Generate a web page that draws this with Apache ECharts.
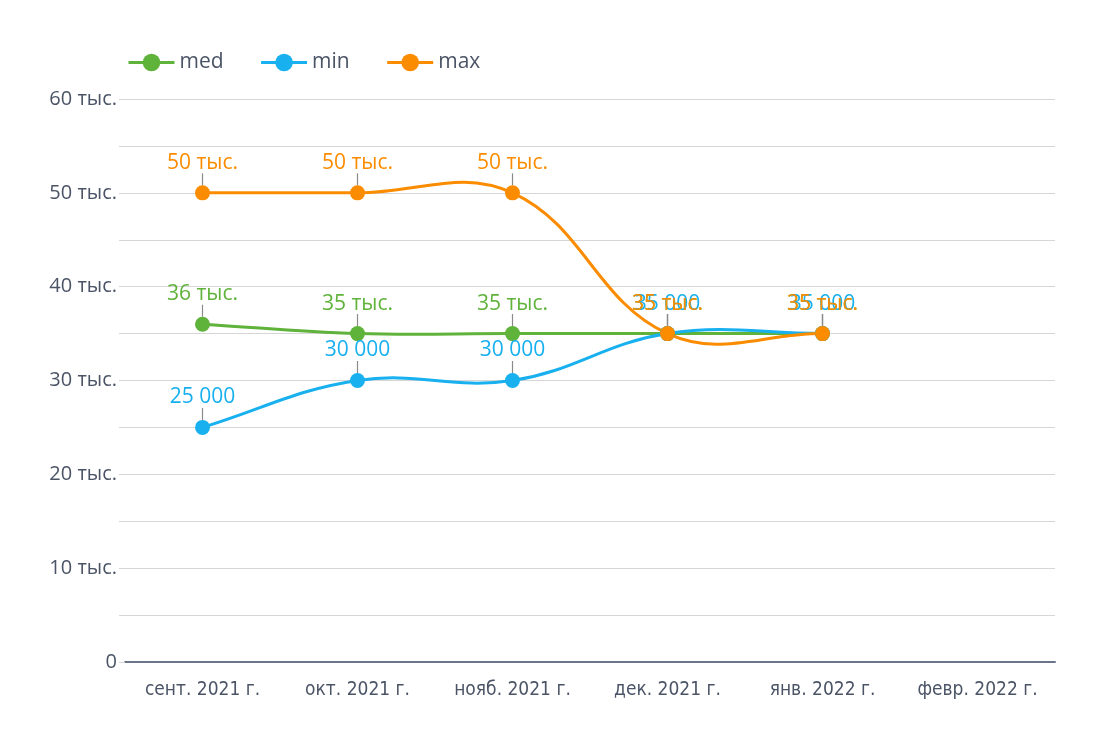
<!DOCTYPE html>
<html><head><meta charset="utf-8">
<script src="https://cdn.jsdelivr.net/npm/echarts@6/dist/echarts.min.js"></script>
<style>html,body{margin:0;padding:0;background:#fff}#c{width:1110px;height:737px}</style>
</head><body><div id="c"></div>
<script>
const categories = ['сент. 2021 г.', 'окт. 2021 г.', 'нояб. 2021 г.', 'дек. 2021 г.', 'янв. 2022 г.', 'февр. 2022 г.'];
const medValues = [36000, 35000, 35000, 35000, 35000, null];
const minValues = [25000, 30000, 30000, 35000, 35000, null];
const maxValues = [50000, 50000, 50000, 35000, 35000, null];

const COLORS = {med: '#5fb23a', min: '#18b0ee', max: '#fb8c00'};
const FONT = '"Open Sans", "Noto Sans", sans-serif';
const TENSION = 0.4;
function thous(v){ return Math.round(v/1000) + ' тыс.'; }
function spaced(v){ return String(Math.round(v)).replace(/\B(?=(\d{3})+(?!\d))/g, ' '); }

// smooth curve (cardinal-style spline) through the library-projected points
function curveSeries(name, values, color){
  return {
    name: name + '-curve', type: 'custom', coordinateSystem: 'cartesian2d',
    data: [[0, values[0]]], z: 1, clip: false, silent: true,
    renderItem: function(params, api){
      const pts = [];
      values.forEach((v, i) => { if (v != null) pts.push(api.coord([i, v])); });
      const cps = pts.map((p, i) => {
        const prev = pts[i - 1] || p, next = pts[i + 1] || p;
        const d01 = Math.hypot(p[0] - prev[0], p[1] - prev[1]);
        const d12 = Math.hypot(next[0] - p[0], next[1] - p[1]);
        let s01 = d01 / (d01 + d12), s12 = d12 / (d01 + d12);
        if (!isFinite(s01)) s01 = 0; if (!isFinite(s12)) s12 = 0;
        const fa = TENSION * s01, fb = TENSION * s12;
        return {
          prev: [p[0] - fa * (next[0] - prev[0]), p[1] - fa * (next[1] - prev[1])],
          next: [p[0] + fb * (next[0] - prev[0]), p[1] + fb * (next[1] - prev[1])]
        };
      });
      const children = [];
      for (let i = 0; i < pts.length - 1; i++) {
        children.push({
          type: 'bezierCurve',
          shape: {x1: pts[i][0], y1: pts[i][1], x2: pts[i+1][0], y2: pts[i+1][1],
                  cpx1: cps[i].next[0], cpy1: cps[i].next[1], cpx2: cps[i+1].prev[0], cpy2: cps[i+1].prev[1]},
          style: {stroke: color, lineWidth: 3, fill: null}
        });
      }
      return {type: 'group', children};
    }
  };
}

function pointSeries(name, data, color, fmt){
  return {
    name, type: 'line', data,
    symbol: 'circle', symbolSize: 15, z: 3,
    lineStyle: {width: 3, color, opacity: 0},
    itemStyle: {color},
    label: {show: true, position: 'top', distance: 0, color, fontSize: 21, fontFamily: FONT,
      formatter: p => fmt(p.value)},
    labelLayout: {dy: -12},
    labelLine: {show: true, length2: 0, lineStyle: {color: '#8a8a8a', width: 1.2}},
    emphasis: {disabled: true}
  };
}

const chart = echarts.init(document.getElementById('c'));
chart.setOption({
  animation: false,
  legend: {
    data: ['med', 'min', 'max'],
    left: 122, top: 47, itemWidth: 46, itemHeight: 22, itemGap: 36,
    lineStyle: {width: 3, opacity: 1},
    textStyle: {fontSize: 21, color: '#4b5466', fontFamily: FONT}
  },
  grid: {left: 125, right: 55, top: 99, bottom: 75, containLabel: false},
  xAxis: {
    type: 'category', data: categories, boundaryGap: true,
    axisLine: {lineStyle: {color: '#6c7588', width: 2}},
    axisTick: {show: false},
    axisLabel: {interval: 0, fontSize: 19, color: '#4b5466', margin: 19, fontFamily: '"DejaVu Sans Condensed", ' + FONT}
  },
  yAxis: {
    type: 'value', min: 0, max: 60000, interval: 5000,
    axisLine: {show: false},
    axisTick: {show: true, length: 6, lineStyle: {color: '#d6d6d6'}},
    splitLine: {lineStyle: {color: '#d6d6d6', width: 1.2}},
    axisLabel: {fontSize: 20, color: '#4b5466', margin: 8, fontFamily: FONT,
      formatter: v => v === 0 ? '0' : (v % 10000 === 0 ? thous(v) : '')}
  },
  series: [
    curveSeries('med', medValues, COLORS.med),
    curveSeries('min', minValues, COLORS.min),
    curveSeries('max', maxValues, COLORS.max),
    pointSeries('med', medValues, COLORS.med, thous),
    pointSeries('min', minValues, COLORS.min, spaced),
    pointSeries('max', maxValues, COLORS.max, thous)
  ]
});
</script></body></html>
